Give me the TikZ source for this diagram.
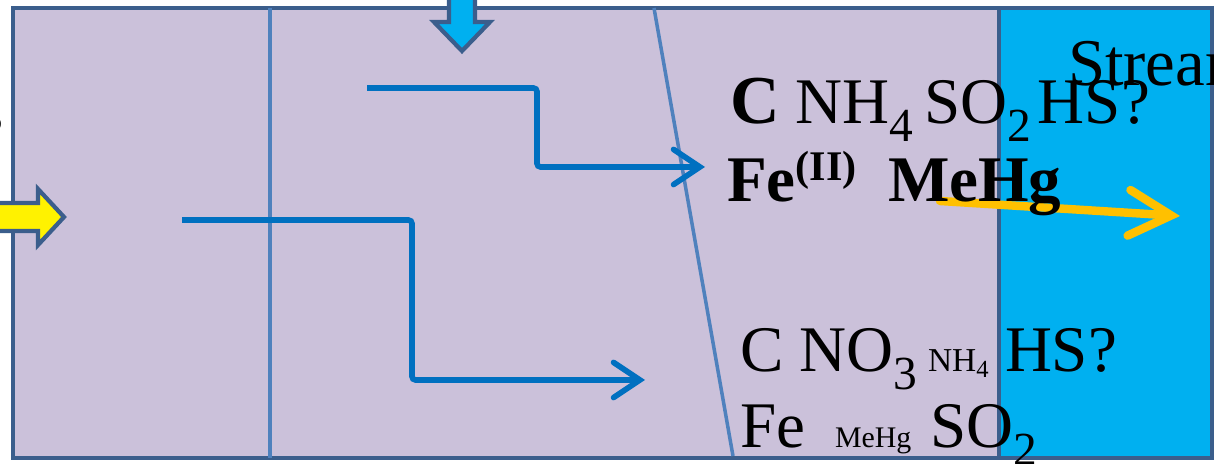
\documentclass[tikz,border=0pt]{standalone}
\usepackage{fontspec}
\setmainfont{Liberation Serif}
\usetikzlibrary{arrows.meta}
\definecolor{boxfill}{RGB}{203,193,218}
\definecolor{boxedge}{RGB}{59,94,140}
\definecolor{divline}{RGB}{79,129,189}
\definecolor{flow}{RGB}{0,112,192}
\definecolor{stream}{RGB}{0,176,240}
\definecolor{orangeA}{RGB}{255,192,0}
\tikzset{
  zone/.style={draw=boxedge,line width=1.3pt},
  divider/.style={draw=divline,line width=1pt},
  flowline/.style={draw=flow,line width=1.6pt,rounded corners=1pt,
    -{Straight Barb[length=7.5pt,width=10pt,line cap=round]}},
  blockarrow/.style={draw=boxedge,line width=1.2pt,line join=miter},
  tok/.style={anchor=base west,inner sep=0pt,outer sep=0pt},
  big/.style={font=\fontsize{18.5}{20}\selectfont},
}
\newcommand{\mysub}[2]{\raisebox{-#2}{#1}}
\begin{document}
\begin{tikzpicture}[x=0.01cm,y=-0.01cm]
\useasboundingbox (0,0) rectangle (1214,464);
% zones
\path[zone,fill=boxfill] (13,8) rectangle (999,458);
\path[zone,fill=stream] (999,8) rectangle (1212,458);
% dividers
\path[divider] (270,8) -- (270,458);
\path[divider] (654,8) -- (733,456);
% flow connectors
\coordinate (f1s) at (367,88);
\coordinate (f1e) at (705,167);
\coordinate (f2s) at (182,220);
\coordinate (f2e) at (645,380);
\draw[flowline] (f1s) -| (537,167) -- (f1e);
\draw[flowline] (f2s) -| (412,380) -- (f2e);
% block arrows
\path[blockarrow,fill=yellow] (-10,203) -- (38,203) -- (38,189) -- (64,217) -- (38,245) -- (38,231) -- (-10,231) -- cycle;
\path[blockarrow,fill=stream] (449,-10) -- (449,22) -- (434,22) -- (462,51) -- (490,22) -- (475,22) -- (475,-10) -- cycle;
% orange export arrow
\coordinate (oa) at (940,201);
\coordinate (ob) at (1180,216);
\draw[draw=orangeA,line width=2.4pt,line cap=round,
  -{Straight Barb[length=12pt,width=13pt,line cap=round]}] (oa) -- (ob);
% texts
\node[tok,big] (t1) at (730,124) {{\fontsize{19.5}{20}\selectfont\textbf{C}} NH\mysub{\fontsize{13.5}{13}\selectfont 4}{5pt}\hspace{3pt}SO\mysub{\fontsize{13.5}{13}\selectfont 2}{5pt}\hspace{2pt}HS?};
\node[tok,big] (t2) at (727,202) {\textbf{Fe\raisebox{6pt}{\fontsize{12}{12}\selectfont (II)}}};
\node[tok,big] (t3) at (888,202) {\textbf{MeHg}};
\node[tok,big] (b1) at (740,372) {C NO\mysub{\fontsize{13.5}{13}\selectfont 3}{5pt}};
\node[tok,font=\fontsize{9.5}{10}\selectfont] (b2) at (928,372) {NH\mysub{\fontsize{7}{7}\selectfont 4}{1.5pt}};
\node[tok,big] (b3) at (1005,372) {HS?};
\node[tok,big] (b4) at (740,448) {Fe};
\node[tok,font=\fontsize{8.5}{9}\selectfont] (b5) at (835,448) {MeHg};
\node[tok,big] (b6) at (930,448) {SO\mysub{\fontsize{13.5}{13}\selectfont 2}{5pt}};
\node[tok,font=\fontsize{19}{20}\selectfont] (st) at (1068,86) {Stream};
\node[anchor=base east,inner sep=0pt,font=\fontsize{16}{18}\selectfont] (lf) at (4,132) {s};
\end{tikzpicture}
\end{document}
